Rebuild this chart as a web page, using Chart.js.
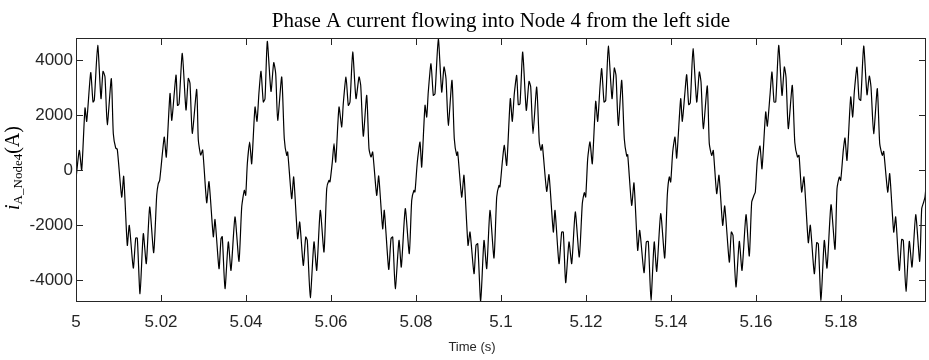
<!DOCTYPE html>
<html>
<head>
<meta charset="utf-8">
<script src="https://cdn.jsdelivr.net/npm/chart.js@4.4.0/dist/chart.umd.min.js"></script>
<style>
  html, body { margin: 0; padding: 0; background: #fff; }
</style>
</head>
<body>
<canvas id="chart" width="929" height="360"></canvas>
<script>
// time after 5 s, in ms (one line per 20 ms cycle)
const timeMs = [
  0, 0.78, 1.34, 2.12, 2.52, 3.46, 4.00, 4.31, 5.11, 5.88, 6.35, 6.82, 7.36, 8.31, 8.78, 9.34, 9.72, 10.75, 11.22, 12.07, 12.54, 13.48, 14.05, 14.42, 15.06, 15.84, 16.54, 17.34, 18.28, 18.99, 19.36, 19.69,
  20.40, 20.78, 21.25, 22.12, 22.54, 23.53, 23.88, 24.24, 25.01, 25.88, 26.42, 26.82, 27.36, 28.40, 28.78, 29.34, 29.81, 30.75, 31.29, 32.31, 32.71, 33.65, 34.12, 34.42, 35.06, 35.84, 36.47, 37.41, 38.35, 38.99, 39.60, 39.93,
  40.31, 40.87, 41.34, 42.12, 42.59, 43.06, 43.53, 44.07, 44.47, 45.01, 45.88, 46.52, 46.99, 47.46, 48.40, 49.01, 49.58, 49.81, 50.75, 51.22, 52.16, 52.64, 53.48, 54.05, 54.42, 55.13, 56.00, 56.64, 57.48, 58.35, 58.99, 59.53, 59.76,
  60.31, 60.71, 61.11, 61.88, 62.52, 62.89, 63.53, 64.07, 64.47, 65.11, 65.88, 66.59, 66.99, 67.60, 68.40, 68.94, 69.41, 69.81, 70.75, 71.22, 72.16, 72.54, 73.58, 74.12, 74.52, 75.13, 76.00, 76.54, 77.48, 78.42, 78.99, 79.53, 79.76,
  80.31, 80.94, 81.34, 82.12, 82.52, 82.89, 83.53, 84.07, 84.47, 85.25, 86.05, 86.59, 87.06, 87.60, 88.47, 89.01, 89.58, 89.81, 90.75, 91.29, 92.24, 92.71, 93.65, 94.12, 94.52, 95.22, 96.00, 96.64, 97.41, 98.35, 98.99, 99.53, 99.76,
  100.31, 100.78, 101.34, 102.19, 102.66, 103.13, 103.69, 104.07, 104.47, 105.11, 105.95, 106.59, 106.99, 107.53, 108.40, 109.01, 109.41, 109.72, 110.75, 111.29, 112.31, 112.71, 113.65, 114.28, 114.66, 115.22, 116.00, 116.64, 117.48, 118.42, 119.13, 119.60, 119.93,
  120.40, 120.94, 121.48, 122.28, 122.75, 123.29, 123.69, 124.24, 124.64, 125.25, 126.12, 126.66, 127.06, 127.60, 128.40, 129.01, 129.58, 129.81, 130.75, 131.29, 132.16, 132.64, 133.65, 134.19, 134.66, 135.29, 136.05, 136.64, 137.58, 138.52, 139.13, 139.60, 139.93,
  140.40, 140.94, 141.34, 142.28, 142.66, 143.22, 143.69, 144.16, 144.54, 145.18, 146.05, 146.66, 147.06, 147.60, 148.54, 149.01, 149.58, 149.95, 150.75, 151.29, 152.16, 152.64, 153.72, 154.19, 154.59, 155.29, 156.07, 156.71, 157.65, 158.42, 158.99, 159.53, 159.84,
  160.31, 160.94, 161.41, 162.28, 162.66, 163.29, 163.76, 164.24, 164.64, 165.34, 166.12, 166.66, 167.06, 167.60, 168.54, 169.13, 169.76, 170.12, 170.75, 171.29, 172.31, 172.78, 173.72, 174.28, 174.66, 175.29, 176.07, 176.71, 177.65, 178.59, 179.06, 179.60, 179.93,
  180.54, 180.94, 181.41, 182.28, 182.75, 183.13, 183.76, 184.24, 184.64, 185.34, 186.12, 186.66, 187.06, 187.69, 188.54, 189.11, 189.72, 190.05, 190.99, 191.46, 192.40, 192.87, 193.72, 194.28, 194.66, 195.29, 196.07, 196.71, 197.58, 198.52, 198.99, 199.46, 199.76, 199.98
];

// phase A current, A
const currentA = [
  -320, 716, 0, 2255, 1770, 3540, 2473, 2545, 4533, 2594, 3588, 3382, 1648, 3320, 1320, 800, 752, -982, -230, -2739, -2012, -3564, -2473, -2473, -4497, -2315, -3406, -1345, -3006, -920, -497, -376,
  716, 1200, 473, 2780, 1810, 3450, 2350, 2400, 4240, 2182, 3333, 3151, 1333, 2933, 1090, 545, 727, -1188, -424, -2424, -1800, -3588, -2497, -2424, -4315, -2618, -3648, -1709, -3321, -1345, -739, -921,
  230, 1018, 230, 2290, 1770, 2836, 3588, 2473, 2594, 4679, 2860, 3903, 3503, 1806, 3382, 1139, 533, 655, -1042, -255, -2497, -1891, -3467, -2436, -2558, -4642, -2618, -3648, -1467, -2982, -679, -376, -436,
  291, 958, 291, 2290, 1564, 2412, 3382, 2351, 2473, 4291, 2594, 3382, 3079, 1230, 2715, 776, 473, 655, -921, -218, -2133, -1467, -3612, -2497, -2436, -4315, -2558, -3527, -1406, -3042, -1103, -739, -800,
  291, 1018, 109, 2351, 1927, 2836, 3867, 2715, 2775, 4776, 2836, 3745, 3321, 1624, 3261, 1139, 533, 655, -982, -194, -2739, -2255, -3770, -2739, -2679, -4780, -2558, -3588, -1467, -3200, -982, -558, -618,
  291, 897, 170, 2594, 1770, 2775, 3442, 2376, 2400, 4291, 2170, 3224, 3018, 1321, 3018, 1018, 715, 921, -776, -170, -2255, -1467, -3406, -2255, -2255, -4097, -2618, -3406, -1527, -3164, -1224, -824, -982,
  412, 1018, 230, 2497, 1770, 3018, 3685, 2473, 2533, 4509, 2594, 3709, 3442, 1624, 3261, 1139, 509, 558, -1285, -473, -2921, -2194, -3733, -2618, -2600, -4739, -2618, -3685, -1588, -3200, -921, -255, -436,
  655, 1200, 436, 2594, 1770, 2715, 3467, 2376, 2448, 4412, 2473, 3564, 3200, 1503, 3055, 958, 533, 715, -861, -194, -2012, -1309, -3345, -2255, -2376, -4255, -2594, -3648, -1624, -3127, -1164, -921, -800,
  352, 873, 48, 2109, 1600, 2715, 3564, 2473, 2473, 4533, 2715, 3745, 3382, 1503, 3079, 1000, 473, 533, -800, -255, -2642, -2012, -3770, -2642, -2679, -4739, -2558, -3564, -1261, -2885, -679, -255, -376,
  715, 1164, 352, 2655, 1927, 2836, 3745, 2594, 2533, 4509, 2739, 3418, 3018, 1321, 2958, 958, 533, 679, -800, -133, -2255, -1709, -3648, -2521, -2558, -4412, -2594, -3527, -1624, -3321, -1406, -1164, -982, -650
];

const xTicks = [5, 5.02, 5.04, 5.06, 5.08, 5.1, 5.12, 5.14, 5.16, 5.18];
const xTickLabels = ['5', '5.02', '5.04', '5.06', '5.08', '5.1', '5.12', '5.14', '5.16', '5.18'];
const yTicks = [-4000, -2000, 0, 2000, 4000];
const yTickLabels = ['-4000', '-2000', '0', '2000', '4000'];

if (timeMs.length !== currentA.length) console.error('length mismatch', timeMs.length, currentA.length);

const points = timeMs.map((ms, i) => ({ x: 5 + ms / 1000, y: currentA[i] }));

const AXIS = '#262626';

// box, inward ticks, titles
const framePlugin = {
  id: 'frame',
  afterDraw(chart) {
    const { ctx, chartArea: a, scales: { x, y } } = chart;
    ctx.save();
    ctx.strokeStyle = AXIS;
    ctx.lineWidth = 1;
    ctx.strokeRect(a.left + 0.5, a.top + 0.5, a.right - a.left - 1, a.bottom - a.top - 1);
    ctx.beginPath();
    xTicks.forEach(v => {
      const px = Math.round(x.getPixelForValue(v)) + 0.5;
      ctx.moveTo(px, a.bottom); ctx.lineTo(px, a.bottom - 7);
      ctx.moveTo(px, a.top); ctx.lineTo(px, a.top + 7);
    });
    yTicks.forEach(v => {
      const py = Math.round(y.getPixelForValue(v)) + 0.5;
      ctx.moveTo(a.left, py); ctx.lineTo(a.left + 7, py);
      ctx.moveTo(a.right, py); ctx.lineTo(a.right - 7, py);
    });
    ctx.stroke();

    // title
    ctx.fillStyle = '#000';
    ctx.textAlign = 'center';
    ctx.textBaseline = 'alphabetic';
    ctx.font = '21px "Liberation Serif"';
    ctx.fillText('Phase A current flowing into Node 4 from the left side', (a.left + a.right) / 2, 27);

    // x title
    ctx.fillStyle = AXIS;
    ctx.font = '13px "Liberation Sans"';
    ctx.fillText('Time (s)', 472, 351);

    // y title: i_{A_Node4}(A)
    const parts = [
      { t: 'i', f: 'italic 20px "Liberation Serif"', dy: 0 },
      { t: 'A_Node4', f: '13px "Liberation Serif"', dy: 3 },
      { t: '(A)', f: '20px "Liberation Serif"', dy: 0 }
    ];
    let total = 0;
    parts.forEach(p => { ctx.font = p.f; p.w = ctx.measureText(p.t).width; total += p.w; });
    ctx.fillStyle = '#000';
    ctx.translate(19, 168 + total / 2);
    ctx.rotate(-Math.PI / 2);
    ctx.textAlign = 'left';
    let cx = 0;
    parts.forEach(p => { ctx.font = p.f; ctx.fillText(p.t, cx, p.dy); cx += p.w; });
    ctx.restore();
  }
};

new Chart(document.getElementById('chart'), {
  type: 'line',
  data: {
    datasets: [{
      label: 'iA_Node4',
      data: points,
      borderColor: '#000',
      borderWidth: 1.2,
      pointRadius: 0,
      tension: 0.2,
      fill: false
    }]
  },
  options: {
    responsive: false,
    animation: false,
    layout: { padding: { top: 38, right: 3, left: 0, bottom: 0 } },
    plugins: {
      legend: { display: false },
      tooltip: { enabled: false },
      title: { display: false }
    },
    scales: {
      x: {
        type: 'linear',
        min: 5,
        max: 5.2,
        afterBuildTicks: s => { s.ticks = xTicks.map(v => ({ value: v })); },
        afterFit: s => { s.height = 58; },
        grid: { display: false, drawTicks: false },
        border: { display: false },
        ticks: {
          padding: 10,
          maxRotation: 0,
          autoSkip: false,
          color: AXIS,
          font: { family: '"Liberation Sans"', size: 17 },
          callback: (v, i) => xTickLabels[i]
        }
      },
      y: {
        min: -4800,
        max: 4800,
        afterBuildTicks: s => { s.ticks = yTicks.map(v => ({ value: v })); },
        afterFit: s => { s.width = 76; },
        grid: { display: false, drawTicks: false },
        border: { display: false },
        ticks: {
          padding: 3,
          autoSkip: false,
          color: AXIS,
          font: { family: '"Liberation Sans"', size: 17 },
          callback: (v, i) => yTickLabels[i]
        }
      }
    }
  },
  plugins: [framePlugin]
});
</script>
</body>
</html>
